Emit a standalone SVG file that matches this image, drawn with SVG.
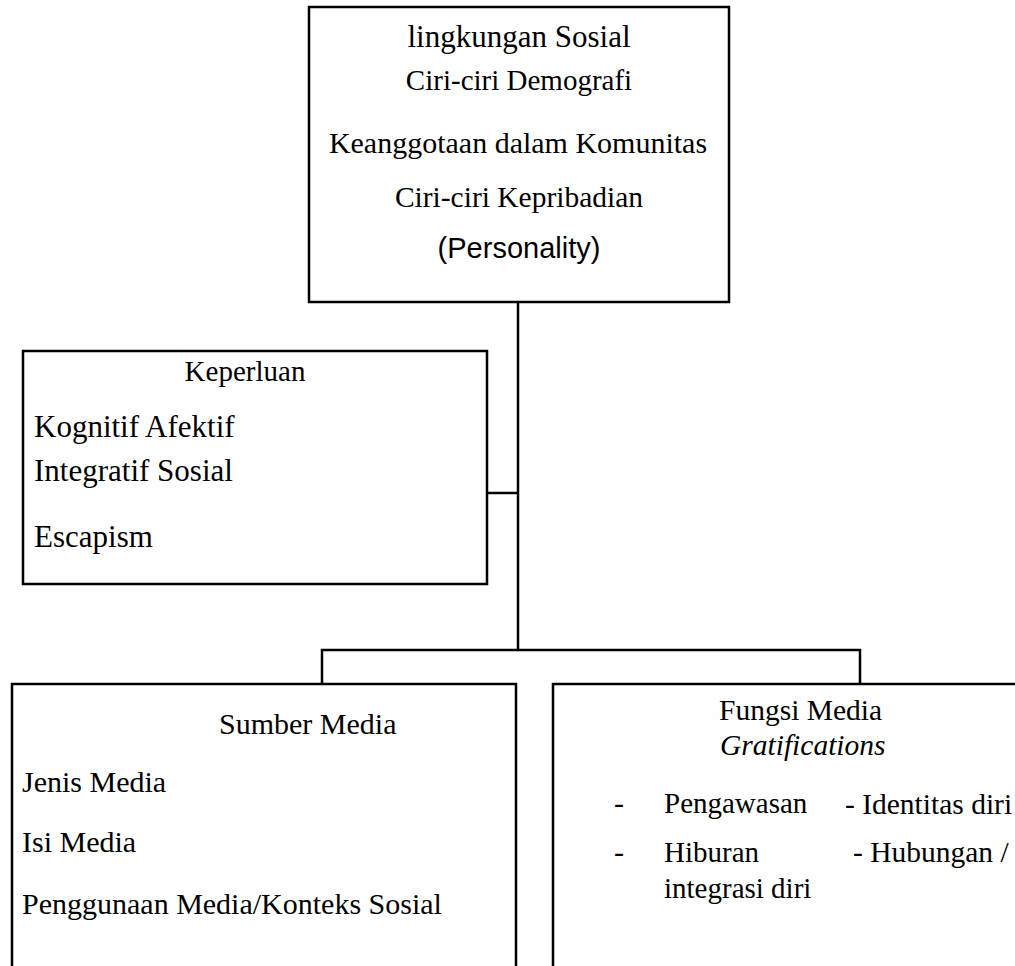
<svg xmlns="http://www.w3.org/2000/svg" width="1015" height="966" viewBox="0 0 1015 966">
<style>
.box{fill:#fff;stroke:#000;stroke-width:2.5}
.ln{fill:none;stroke:#000;stroke-width:2.5}
.t{font-family:"Liberation Serif","Times New Roman",serif;font-size:30px;fill:#000}
.c{text-anchor:middle}
.s{font-family:"Liberation Sans",Arial,sans-serif;font-size:29px;fill:#000}
.i{font-style:italic}
</style>
<rect width="1015" height="966" fill="#fff"/>
<g id="connectors">
<path class="ln" d="M518 302 V650"/>
<path class="ln" d="M487 493 H518"/>
<path class="ln" d="M322 683 V650 H860 V683"/>
</g>
<g id="lingkungan">
<rect class="box" x="309" y="7" width="420" height="295"/>
<text class="t c" x="519" y="47" style="font-size:31px">lingkungan Sosial</text>
<text class="t c" x="519" y="90" style="font-size:29px">Ciri-ciri Demografi</text>
<text class="t c" x="518" y="153">Keanggotaan dalam Komunitas</text>
<text class="t c" x="519" y="207" style="font-size:29.5px">Ciri-ciri Kepribadian</text>
<text class="s c" x="519" y="258">(Personality)</text>
</g>
<g id="keperluan">
<rect class="box" x="23" y="351" width="464" height="233"/>
<text class="t c" x="245" y="381" style="font-size:29px">Keperluan</text>
<text class="t" x="34" y="437" style="font-size:31px">Kognitif Afektif</text>
<text class="t" x="34" y="481" style="font-size:31px">Integratif Sosial</text>
<text class="t" x="34" y="547" style="font-size:31px">Escapism</text>
</g>
<g id="sumber">
<rect class="box" x="12" y="684" width="504" height="300"/>
<text class="t" x="219" y="734">Sumber Media</text>
<text class="t" x="22" y="792">Jenis Media</text>
<text class="t" x="22" y="852">Isi Media</text>
<text class="t" x="22" y="914">Penggunaan Media/Konteks Sosial</text>
</g>
<g id="fungsi">
<rect class="box" x="553" y="684" width="480" height="300"/>
<text class="t" x="719" y="720" style="font-size:29.5px">Fungsi Media</text>
<text class="t i" x="720" y="755" style="font-size:29.5px">Gratifications</text>
<text class="t" x="614" y="813">-</text>
<text class="t" x="664" y="813" style="font-size:29px">Pengawasan</text>
<text class="t" x="845" y="814" style="font-size:29.5px">- Identitas diri</text>
<text class="t" x="614" y="862">-</text>
<text class="t" x="664" y="862" style="font-size:29px">Hiburan</text>
<text class="t" x="853" y="862" style="font-size:29.5px">- Hubungan /</text>
<text class="t" x="664" y="898" style="font-size:29px">integrasi diri</text>
</g>
</svg>
